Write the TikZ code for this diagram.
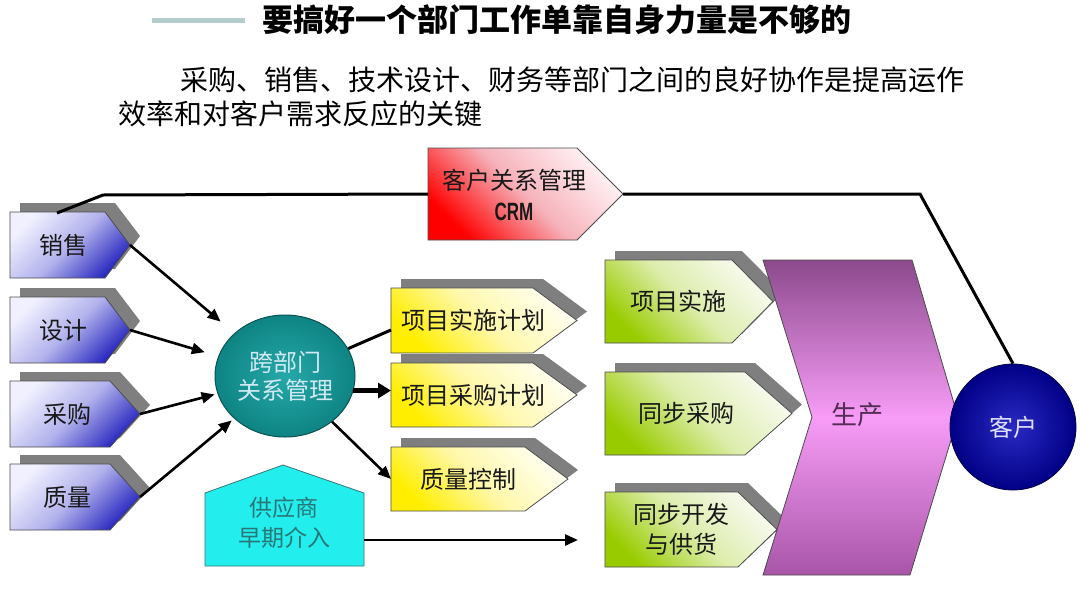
\documentclass[tikz,border=0pt]{standalone}
\usepackage{fontspec}
\setmainfont{Noto Sans CJK SC}
\newfontfamily\crmfont{Liberation Sans}[FakeStretch=0.68]
\usetikzlibrary{arrows.meta,calc,shapes.geometric}
\definecolor{blueL}{HTML}{F0F0FF}
\definecolor{blueM}{HTML}{B2B2EC}
\definecolor{blueD}{HTML}{2828C0}
\definecolor{yelL}{HTML}{FFFFEE}
\definecolor{yelM}{HTML}{FFF8AC}
\definecolor{yelD}{HTML}{FFEE00}
\definecolor{grnL}{HTML}{F7FAEE}
\definecolor{grnM}{HTML}{DDEDAC}
\definecolor{grnD}{HTML}{99CC00}
\definecolor{redL}{HTML}{FFF2F5}
\definecolor{redM}{HTML}{F6B2BA}
\definecolor{redD}{HTML}{FF0000}
\definecolor{purT}{HTML}{8C4A8C}
\definecolor{purM}{HTML}{F79CF7}
\definecolor{purB}{HTML}{A855A8}
\definecolor{tealI}{HTML}{26A8A8}
\definecolor{tealO}{HTML}{0E8484}
\definecolor{tealE}{HTML}{0A5252}
\definecolor{navyI}{HTML}{2A2AC4}
\definecolor{navyO}{HTML}{000086}
\definecolor{cyanF}{HTML}{22EEEE}
\definecolor{supText}{HTML}{2A7676}
\definecolor{titleLine}{HTML}{B5CCCC}
\definecolor{shadowGray}{HTML}{7F7F7F}
\newcommand\pent[8]{%
  \fill[shadowGray] (#2+10,#3-9) -- (#4+10,#3-9) -- (#5+10,{(#3+#6)/2-9}) -- (#4+10,#6-9) -- (#2+10,#6-9) -- cycle;
  \path[#7,boxedge] (#2,#3) -- (#4,#3) -- (#5,{(#3+#6)/2}) -- (#4,#6) -- (#2,#6) -- cycle;
  \node[boxtext] (#1) at ({(#2+(#4+#5)/2)/2},{(#3+#6)/2}) {#8};
  \coordinate (#1-tip) at (#5,{(#3+#6)/2});
  \coordinate (#1-w) at (#2,{(#3+#6)/2});
}
\begin{document}
\begin{tikzpicture}[x=1pt,y=-1pt,
  boxedge/.style={draw=black!70,line width=0.8pt},
  bluefill/.style={top color=blueL,bottom color=blueD,middle color=blueM,shading angle=45},
  yelfill/.style={top color=yelL,bottom color=yelD,middle color=yelM,shading angle=-45},
  grnfill/.style={top color=grnL,bottom color=grnD,middle color=grnM,shading angle=-45},
  redfill/.style={top color=redL,bottom color=redD,middle color=redM,shading angle=-45},
  boxtext/.style={font=\fontsize{24}{30}\selectfont,align=center,inner sep=0pt,text=black!90},
  arr/.style={line width=2.6pt,-{Triangle[length=13pt,width=11pt]}},
  thickarr/.style={line width=5pt,-{Triangle[length=13pt,width=15pt]}},
  link/.style={line width=3pt,line join=miter}]
\useasboundingbox (0,0) rectangle (1080,600);
\fill[white] (0,0) rectangle (1080,600);
% title
\coordinate (tl1) at (152,20);
\coordinate (tl2) at (245,20);
\draw[titleLine,line width=5pt] (tl1) -- (tl2);
\node[anchor=west,inner sep=0pt,font=\fontsize{31}{31}\selectfont\bfseries] (title) at (262,20) {要搞好一个部门工作单靠自身力量是不够的};
\node[anchor=west,inner sep=0pt,font=\fontsize{28}{28}\selectfont] (sub1) at (180,80) {采购、销售、技术设计、财务等部门之间的良好协作是提高运作};
\node[anchor=west,inner sep=0pt,font=\fontsize{28}{28}\selectfont] (sub2) at (118,114) {效率和对客户需求反应的关键};
% left boxes
\pent{sale}{10}{212}{105}{130}{278}{bluefill}{销售}
\pent{des}{10}{297}{105}{130}{363}{bluefill}{设计}
\pent{pur}{10}{381}{110}{140}{447}{bluefill}{采购}
\pent{qual}{10}{464}{110}{140}{530}{bluefill}{质量}
% CRM box
\path[redfill,boxedge] (428,148) -- (577,148) -- (623,194) -- (577,240) -- (428,240) -- cycle;
\node[boxtext] (crm) at (514,180) {客户关系管理};
\node[inner sep=0pt,font=\crmfont\bfseries\fontsize{25}{25}\selectfont,text=black!90] (crmlbl) at (514,212) {CRM};
\coordinate (crm-w) at (428,194);
\coordinate (crm-tip) at (623,194);
% central ellipse
\node[ellipse,draw=tealE,line width=1pt,inner color=tealI,outer color=tealO,minimum width=140pt,minimum height=122pt,inner sep=0pt,align=center,text=white!85!cyan!95!black,font=\fontsize{24}{28}\selectfont] (ell) at (285,376) {跨部门\\关系管理};
% yellow boxes
\pent{p1}{391}{288}{533}{577}{353}{yelfill}{项目实施计划}
\pent{p2}{391}{363}{533}{577}{427}{yelfill}{项目采购计划}
\pent{p3}{391}{447}{525}{568}{511}{yelfill}{质量控制}
% supplier
\path[fill=cyanF,draw=tealE!80,line width=0.8pt] (205,566) -- (205,493) -- (283,465) -- (364,493) -- (364,566) -- cycle;
\node[inner sep=0pt,align=center,text=supText,font=\fontsize{23}{30}\selectfont] (sup) at (284,523) {供应商\\早期介入};
\coordinate (sup-e) at (364,540);
% green boxes
\pent{g1}{605}{260}{732}{773}{343}{grnfill}{项目实施}
\pent{g2}{605}{372}{745}{792}{455}{grnfill}{同步采购}
\pent{g3}{605}{492}{738}{777}{567}{grnfill}{同步开发\\与供货}
% production chevron
\path[top color=purT,bottom color=purB,middle color=purM,boxedge] (763,260) -- (912,260) -- (958,417) -- (910,575) -- (763,575) -- (812,417) -- cycle;
\node[inner sep=0pt,font=\fontsize{26}{26}\selectfont,text=purT!60!black] (prod) at (857,415) {生产};
% customer
\node[circle,draw=navyO!50!black,line width=0.8pt,inner color=navyI,outer color=navyO,minimum size=126pt,inner sep=0pt,text=white!88!blue,font=\fontsize{24}{24}\selectfont] (cust) at (1013,427) {客户};
% connectors
\draw[arr,shorten >=18pt] (sale-tip) -- (ell);
\draw[arr,shorten >=14pt] (des-tip) -- (ell);
\draw[arr,shorten >=3pt] (pur-tip) -- (ell);
\draw[arr,shorten >=3pt] (qual-tip) -- (ell);
\coordinate (p1-in) at (391,330);
\draw[line width=3pt] (ell) -- (p1-in);
\draw[thickarr] (ell.-12) -- (ell.-12 -| p2-w);
\draw[arr] (ell) -- (p3-w);
\draw[arr,shorten >=27pt] (sup-e) -- (sup-e -| g3-w);
% CRM link line
\coordinate (sale-top) at (57,213);
\coordinate (bend1) at (103,195);
\coordinate (bend2) at (920,194);
\draw[link] (sale-top) -- (bend1) -- (crm-w);
\draw[link] (crm-tip) -- (bend2) -- (cust.north);
\end{tikzpicture}
\end{document}
